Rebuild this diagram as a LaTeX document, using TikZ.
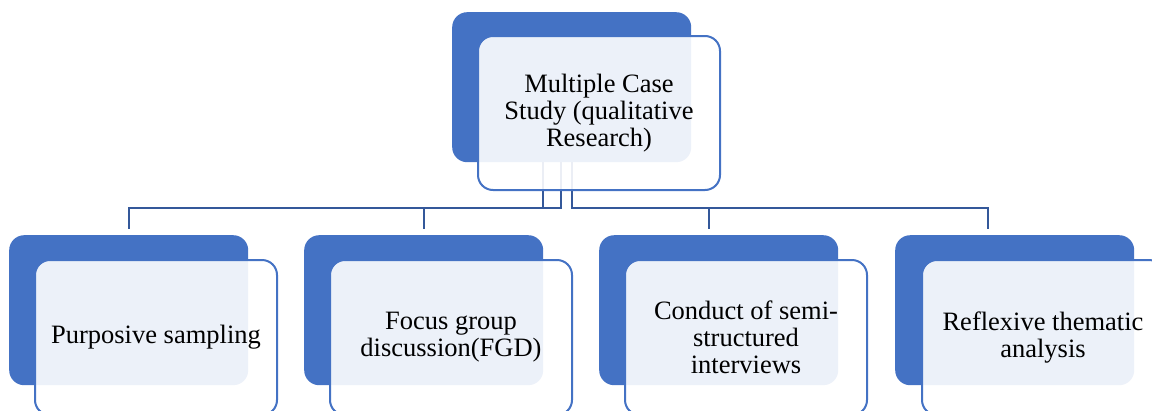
\documentclass[tikz,border=0pt]{standalone}
\usepackage{fontspec}
\setmainfont{Liberation Serif}
\newfontfamily\boxface{Liberation Serif}
\usetikzlibrary{backgrounds}
\definecolor{accent}{HTML}{4472C4}
\definecolor{linkblue}{HTML}{34589A}
\tikzset{
  backbox/.style={draw=none, fill=accent, rounded corners=15pt,
    minimum width=239pt, minimum height=150pt, inner sep=0pt, anchor=north west},
  frontbox/.style={draw=accent, line width=2pt, fill=white, fill opacity=0.9,
    text opacity=1, rounded corners=15pt, minimum width=242pt, minimum height=155pt,
    inner sep=0pt, anchor=north west, align=center,
    font=\boxface\fontsize{26.5}{27}\selectfont},
  link/.style={draw=linkblue, line width=2pt}
}
\begin{document}
\begin{tikzpicture}[x=1pt, y=-1pt]
  \useasboundingbox (0,0) rectangle (1152,410);
  \clip (0,0) rectangle (1152,410);

  % root of the hierarchy
  \node[backbox] (topB) at (452,12) {};
  \node[frontbox, minimum height=154pt] (topF) at (477,35)
    {Multiple Case\\Study (qualitative\\Research)};

  % the four methods
  \node[backbox] (c1B) at (9,235) {};
  \node[frontbox] (c1F) at (34,259) {Purposive sampling};

  \node[backbox] (c2B) at (304,235) {};
  \node[frontbox] (c2F) at (329,259) {Focus group\\discussion(FGD)};

  \node[backbox] (c3B) at (599,235) {};
  \node[frontbox] (c3F) at (624,259) {Conduct of semi-\\structured\\interviews};

  \node[backbox] (c4B) at (895,235) {};
  \node[frontbox] (c4F) at (921,259) {Reflexive thematic\\analysis};

  % elbow connectors from the root to each method
  \begin{scope}[on background layer]
    \draw[link] ([xshift=-28.5pt]topB.south) -- ++(0,46) -| ([yshift=6pt]c1B.north);
    \draw[link] ([xshift=-10.5pt]topB.south) -- ++(0,46) -| ([yshift=6pt]c2B.north);
    \draw[link] (topB.south) -- ++(0,46) -| ([xshift=-9.5pt,yshift=6pt]c3B.north);
    \draw[link] (topB.south) -- ++(0,46) -| ([xshift=-27pt,yshift=6pt]c4B.north);
  \end{scope}
\end{tikzpicture}
\end{document}
